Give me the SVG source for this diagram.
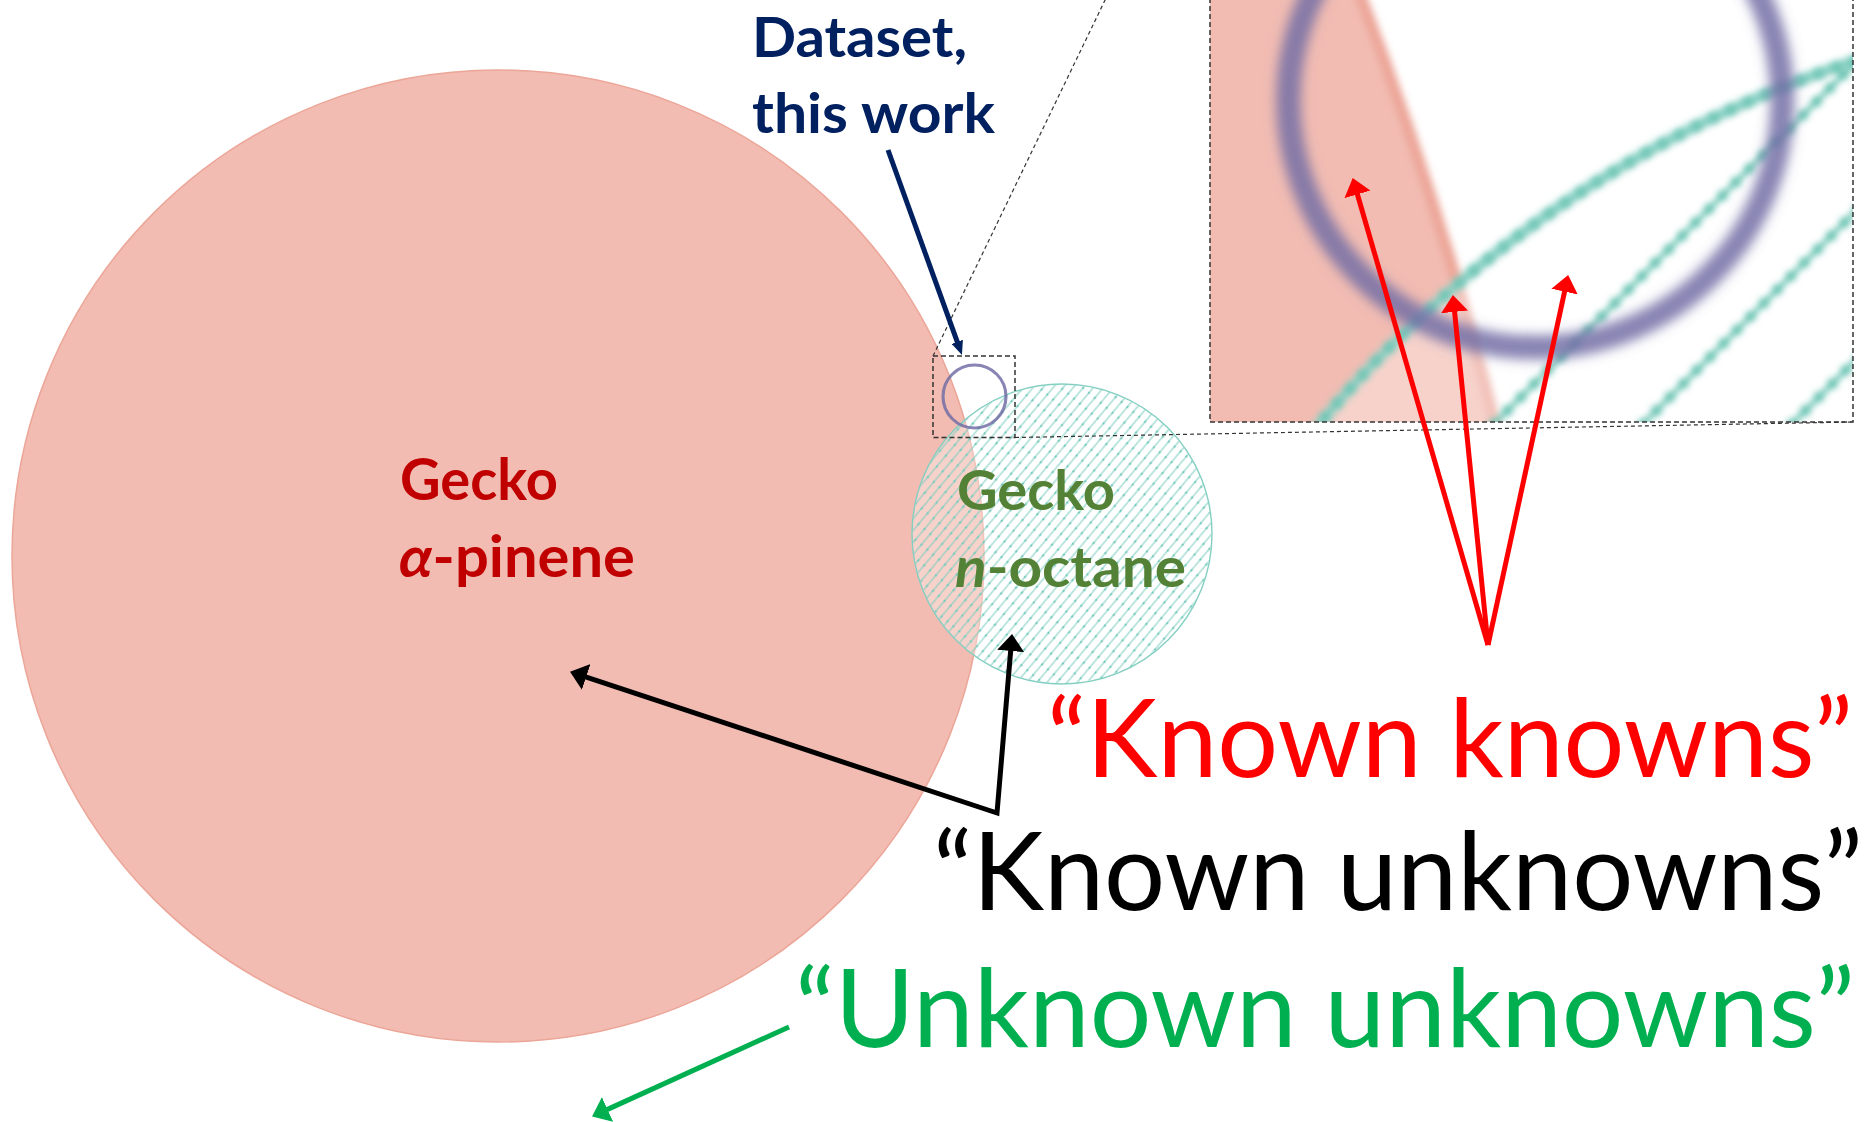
<svg xmlns="http://www.w3.org/2000/svg" width="1868" height="1122" viewBox="0 0 1868 1122">
  <style>
    .bold { font-family: Lato, "Open Sans", "Liberation Sans", sans-serif; font-weight: 700; }
    .big { font-family: Lato, "Open Sans", "Liberation Sans", sans-serif; font-weight: 400; font-size: 108px; }
    .dash-box { fill: none; stroke: #333; stroke-width: 1.5; stroke-dasharray: 5 3; }
    .dash-thin { fill: none; stroke: #333; stroke-width: 1.2; stroke-dasharray: 4 3; }
    .arrow { fill: none; stroke-width: 5; stroke-linejoin: miter; }
    .maghatch { stroke: #6cc4b3; fill: none; }
  </style>
  <defs>
    <pattern id="hatch" patternUnits="userSpaceOnUse" width="7.7" height="14" patternTransform="rotate(40)">
      <line x1="1" y1="0" x2="1" y2="14" stroke="#7acdbe" stroke-width="1"/>
      <circle cx="1" cy="7" r="1.3" fill="#7acdbe"/>
    </pattern>
    <filter id="soft" x="-20%" y="-20%" width="140%" height="140%">
      <feGaussianBlur stdDeviation="0.6"/>
    </filter>
    <filter id="magblur" filterUnits="userSpaceOnUse" x="920" y="340" width="110" height="112">
      <feGaussianBlur stdDeviation="0.45"/>
    </filter>
    <filter id="magblur2" filterUnits="userSpaceOnUse" x="1190" y="-20" width="690" height="460">
      <feGaussianBlur stdDeviation="3"/>
    </filter>
    <clipPath id="bigclip">
      <rect x="1210" y="-217" width="643" height="639"/>
    </clipPath>
    <clipPath id="octclip">
      <circle cx="2221.4" cy="1178.5" r="1176"/>
    </clipPath>
    <marker id="ah-black" markerUnits="userSpaceOnUse" markerWidth="17" markerHeight="27" refX="3" refY="13.5" orient="auto-start-reverse">
      <path d="M0,0 L17,13.5 L0,27 z" fill="#000"/>
    </marker>
    <marker id="ah-red" markerUnits="userSpaceOnUse" markerWidth="17" markerHeight="27" refX="3" refY="13.5" orient="auto">
      <path d="M0,0 L17,13.5 L0,27 z" fill="#ff0000"/>
    </marker>
    <marker id="ah-green" markerUnits="userSpaceOnUse" markerWidth="17" markerHeight="27" refX="3" refY="13.5" orient="auto">
      <path d="M0,0 L17,13.5 L0,27 z" fill="#00b050"/>
    </marker>
    <marker id="ah-navy" markerUnits="userSpaceOnUse" markerWidth="14" markerHeight="12" refX="2" refY="6" orient="auto">
      <path d="M0,0 L14,6 L0,12 z" fill="#002060"/>
    </marker>
    <g id="magsrc">
      <use href="#shape-pinene"/>
      <use href="#octane-base"/>
    </g>
  </defs>

  <rect width="1868" height="1122" fill="#fff"/>

  <g id="node-alpha-pinene">
    <circle id="shape-pinene" cx="498" cy="556" r="486" fill="#f2bcb2" stroke="#eca698" stroke-width="1.5"/>
    <text class="bold" fill="#c00000" font-size="58" x="400" y="500" textLength="158" lengthAdjust="spacingAndGlyphs">Gecko</text>
    <text class="bold" fill="#c00000" font-size="58" x="399" y="577" textLength="236" lengthAdjust="spacingAndGlyphs"><tspan font-style="italic">α</tspan>-pinene</text>
  </g>

  <g id="node-n-octane">
    <circle id="octane-base" cx="1062" cy="534" r="150" fill="#fff" fill-opacity="0.33" stroke="#84cfc2" stroke-width="1.4"/>
    <circle cx="1062" cy="534" r="149.3" fill="url(#hatch)"/>
    <text class="bold" fill="#538135" font-size="56" x="957" y="510" textLength="158" lengthAdjust="spacingAndGlyphs">Gecko</text>
    <text class="bold" fill="#538135" font-size="56" x="955" y="587" textLength="231" lengthAdjust="spacingAndGlyphs"><tspan font-style="italic">n</tspan>-octane</text>
  </g>

  <g id="node-dataset">
    <circle id="shape-dataset" cx="974.5" cy="396.5" r="31.5" fill="none" stroke="#736ea6" stroke-opacity="0.85" stroke-width="3.1" filter="url(#soft)"/>
    <text class="bold" fill="#002060" font-size="56" x="752" y="57" textLength="215" lengthAdjust="spacingAndGlyphs">Dataset,</text>
    <text class="bold" fill="#002060" font-size="56" x="752" y="133" textLength="243" lengthAdjust="spacingAndGlyphs">this work</text>
  </g>

  <g id="node-zoom">
    <g clip-path="url(#bigclip)">
      <use href="#magsrc" transform="matrix(7.84 0 0 7.84 -6104.72 -3008.04)" filter="url(#magblur)"/>
      <g filter="url(#magblur2)">
        <g clip-path="url(#octclip)">
          <g class="maghatch">
            <line x1="1400" y1="518" x2="1960" y2="-42" stroke-width="5"/>
            <line x1="1549" y1="518" x2="2109" y2="-42" stroke-width="5"/>
            <line x1="1698" y1="518" x2="2258" y2="-42" stroke-width="5"/>
            <line x1="1400" y1="518" x2="1960" y2="-42" stroke-width="11" stroke-linecap="round" stroke-dasharray="0 19"/>
            <line x1="1549" y1="518" x2="2109" y2="-42" stroke-width="11" stroke-linecap="round" stroke-dasharray="0 19"/>
            <line x1="1698" y1="518" x2="2258" y2="-42" stroke-width="11" stroke-linecap="round" stroke-dasharray="0 19"/>
          </g>
        </g>
        <circle cx="2221.4" cy="1178.5" r="1176" fill="none" stroke="#6cc4b3" stroke-width="11" stroke-linecap="round" stroke-dasharray="0 19" opacity="0.8"/>
      </g>
      <use href="#shape-dataset" transform="matrix(7.84 0 0 7.84 -6104.72 -3008.04)" filter="url(#magblur)"/>
    </g>
    <rect class="dash-box" x="933" y="356" width="82" height="81.5"/>
    <rect class="dash-box" x="1210" y="-217" width="643" height="639" stroke-width="1.3" stroke-dasharray="4 2"/>
    <line class="dash-thin" x1="933" y1="356" x2="1210" y2="-217"/>
    <line class="dash-thin" x1="1015" y1="437.5" x2="1853" y2="422"/>
  </g>

  <g id="node-labels">
    <text class="big" fill="#ff0000" x="1047" y="777" textLength="806" lengthAdjust="spacingAndGlyphs">“Known knowns”</text>
    <text class="big" fill="#000000" x="933" y="910" textLength="930" lengthAdjust="spacingAndGlyphs">“Known unknowns”</text>
    <text class="big" fill="#00b050" x="795" y="1047" textLength="1060" lengthAdjust="spacingAndGlyphs">“Unknown unknowns”</text>
  </g>

  <g id="connectors">
    <line class="arrow" x1="888" y1="150" x2="957.9" y2="343.7" stroke="#002060" stroke-width="2.5" marker-end="url(#ah-navy)"/>
    <path class="arrow" d="M583.3,676.1 L997,813 L1010.9,648" stroke="#000" marker-start="url(#ah-black)" marker-end="url(#ah-black)"/>
    <line class="arrow" x1="1488" y1="645" x2="1356.6" y2="191.5" stroke="#ff0000" marker-end="url(#ah-red)"/>
    <line class="arrow" x1="1488" y1="645" x2="1454.3" y2="308.9" stroke="#ff0000" marker-end="url(#ah-red)"/>
    <line class="arrow" x1="1488" y1="645" x2="1565.2" y2="288.7" stroke="#ff0000" marker-end="url(#ah-red)"/>
    <line class="arrow" x1="789" y1="1027" x2="604.8" y2="1110.6" stroke="#00b050" marker-end="url(#ah-green)"/>
  </g>
</svg>
